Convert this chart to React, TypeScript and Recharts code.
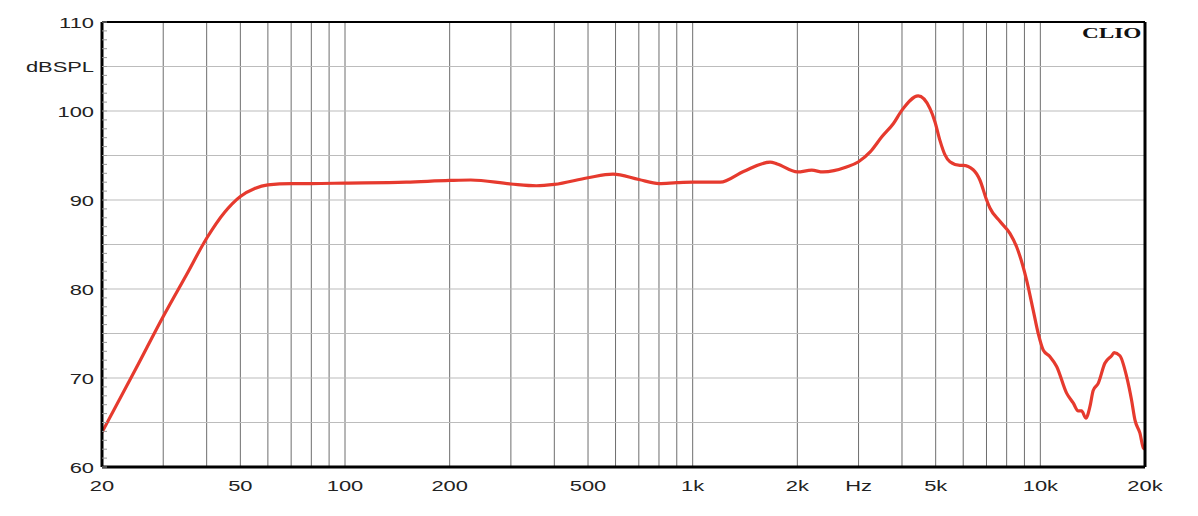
import { LineChart, Line, XAxis, YAxis, CartesianGrid, ReferenceLine } from "recharts";

// frequency response (Hz / dB SPL)
const FREQS = [
  20, 25, 30, 35, 40, 45, 50, 55, 60, 70, 80, 100, 150, 200, 230, 300, 355, 400, 500, 590,
  700, 800, 900, 1000, 1200, 1400, 1670, 1750, 2000, 2200, 2370, 2770, 3000, 3240, 3500,
  3780, 4000, 4454, 4812, 4975, 5142, 5314, 5494, 5870, 6000, 6410, 6700, 7006, 7161, 7650,
  8174, 8544, 9130, 9540, 9860, 10190, 10660, 11140, 11900, 12430, 12850, 13140,
  13520, 13890, 14190, 14670, 15330, 16030, 16300, 16940, 17710, 18300, 18710, 19340,
  19800, 20000,
];
const SPL = [
  63.9, 71.0, 76.9, 81.6, 85.7, 88.6, 90.4, 91.3, 91.7, 91.85, 91.85, 91.9, 92.0, 92.2,
  92.25, 91.8, 91.6, 91.75, 92.5, 92.9, 92.3, 91.85, 91.95, 92.0, 92.0, 93.2, 94.25, 94.05,
  93.15, 93.35, 93.15, 93.7, 94.3, 95.4, 97.1, 98.6, 100.1, 101.7, 100.3, 98.8, 96.7, 95.1,
  94.3, 93.9, 93.9, 93.4, 92.25, 90.0, 89.1, 87.6, 86.25, 84.75, 81.0, 77.6, 75.0,
  73.15, 72.4, 71.3, 68.3, 67.2, 66.3, 66.3, 65.5, 66.8, 68.6, 69.4, 71.65, 72.5, 72.85,
  72.5, 70.15, 67.5, 65.3, 63.8, 62.1, 62.0,
];

const X_TICKS = [
  20, 30, 40, 50, 60, 70, 80, 90, 100, 200, 300, 400, 500, 600, 700, 800, 900, 1000, 2000,
  3000, 4000, 5000, 6000, 7000, 8000, 9000, 10000, 20000,
];
const X_LABELS: Record<number, string> = {
  20: "20", 50: "50", 100: "100", 200: "200", 500: "500", 1000: "1k", 2000: "2k",
  3000: "Hz", 5000: "5k", 10000: "10k", 20000: "20k",
};
const GRID_DB = [65, 70, 75, 80, 85, 90, 95, 100, 105];
const Y_MINOR = Array.from({ length: 51 }, (_, i) => 60 + i);
const Y_LABELS: Record<number, string> = {
  60: "60", 70: "70", 80: "80", 90: "90", 100: "100", 105: "dBSPL", 110: "110",
};

const data = FREQS.map((f, i) => ({ f, spl: SPL[i] }));

const FONT = "'Liberation Sans', Arial, sans-serif";
const SX = 1.46; // the original lettering is drawn wide

const YTick = (props: any) => {
  const label = Y_LABELS[props.payload.value];
  if (!label) return null;
  return (
    <text
      transform={`translate(${props.x},${props.y}) scale(${SX},1)`}
      dy={5.5}
      textAnchor="end"
      fill="#222"
      fontSize={15}
      fontFamily={FONT}
    >
      {label}
    </text>
  );
};

const XTick = (props: any) => {
  const label = X_LABELS[props.payload.value];
  if (!label) return null;
  return (
    <text
      transform={`translate(${props.x},${props.y}) scale(${SX},1)`}
      dy={24}
      textAnchor="middle"
      fill="#222"
      fontSize={15}
      fontFamily={FONT}
    >
      {label}
    </text>
  );
};

export default function App() {
  return (
    <div style={{ position: "relative", width: 1180, height: 500, background: "#fff" }}>
      <LineChart width={1180} height={500} data={data} margin={{ top: 14, right: 42, bottom: 11, left: 34 }}>
        <CartesianGrid horizontal={false} stroke="#6e6e6e" />
        {GRID_DB.map((v) => (
          <ReferenceLine key={v} y={v} stroke="#bcbcbc" strokeWidth={1.2} />
        ))}
        <XAxis
          dataKey="f"
          type="number"
          scale="log"
          domain={[20, 20000]}
          ticks={X_TICKS}
          interval={0}
          allowDataOverflow
          height={30}
          tickLine={false}
          tickSize={0}
          tickMargin={0}
          tick={<XTick />}
          axisLine={{ stroke: "#000", strokeWidth: 3 }}
        />
        <YAxis
          domain={[60, 110]}
          ticks={Y_MINOR}
          interval={0}
          width={60}
          tickSize={-5}
          tickMargin={13}
          tickLine={{ stroke: "#999" }}
          tick={<YTick />}
          axisLine={{ stroke: "#000", strokeWidth: 3 }}
        />
        <YAxis
          yAxisId="r"
          orientation="right"
          domain={[60, 110]}
          ticks={Y_MINOR}
          interval={0}
          width={1}
          tickSize={-5}
          tickLine={{ stroke: "#999" }}
          tick={false}
          axisLine={{ stroke: "#000", strokeWidth: 3 }}
        />
        <ReferenceLine y={110} stroke="#000" strokeWidth={2} />
        <Line
          dataKey="spl"
          type="monotone"
          stroke="#e63a2e"
          strokeWidth={3.2}
          dot={false}
          isAnimationActive={false}
        />
      </LineChart>
      <div
        style={{
          position: "absolute",
          right: 46.5,
          top: 17.5,
          lineHeight: "15px",
          fontFamily: "'Liberation Serif', serif",
          fontWeight: "bold",
          fontSize: 15,
          color: "#111",
          transform: "scaleX(1.55)",
          transformOrigin: "right top",
        }}
      >
        CLIO
      </div>
    </div>
  );
}
